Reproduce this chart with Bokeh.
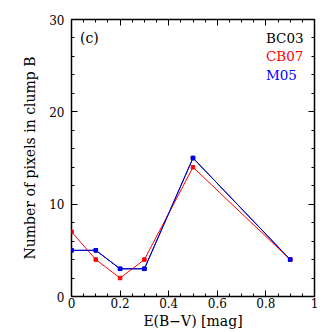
from bokeh.plotting import figure
from bokeh.models import FixedTicker, LinearAxis, Range1d
from bokeh.core.properties import value
from bokeh.embed import file_html
from bokeh.resources import INLINE

# data
ebv = [0.0, 0.1, 0.2, 0.3, 0.5, 0.9]
bc03 = [5, 5, 3, 3, 15, 4]
cb07 = [7, 4, 2, 4, 14, 4]
m05 = [5, 5, 3, 3, 15, 4]
series_names = ["BC03", "CB07", "M05"]
series_colors = ["black", "red", "blue"]
x_ticks = [0, 0.2, 0.4, 0.6, 0.8, 1]
x_tick_labels = ["0", "0.2", "0.4", "0.6", "0.8", "1"]
y_ticks = [0, 10, 20, 30]
panel_label = "(c)"

FONT = "DejaVu Serif"

p = figure(width=324, height=332, output_backend="svg", toolbar_location=None,
           x_range=Range1d(0, 1), y_range=Range1d(0, 30),
           min_border_left=71, min_border_right=10, min_border_top=19, min_border_bottom=36,
           x_axis_label="E(B\u2212V) [mag]", y_axis_label="Number of pixels in clump B")
p.grid.visible = False
p.outline_line_color = "black"
p.outline_line_width = 1.5
p.background_fill_color = "white"
p.border_fill_color = "white"

x_minor = [i * 0.05 for i in range(21)]
y_minor = [i * 2 for i in range(16)]
xt = FixedTicker(ticks=x_ticks, minor_ticks=x_minor)
yt = FixedTicker(ticks=y_ticks, minor_ticks=y_minor)

def style(ax, labels=True):
    ax.major_tick_in = 6
    ax.major_tick_out = 0
    ax.minor_tick_in = 3
    ax.minor_tick_out = 0
    ax.axis_line_color = None
    ax.major_tick_line_color = "black"
    ax.minor_tick_line_color = "black"
    ax.major_tick_line_width = 1
    ax.minor_tick_line_width = 1
    ax.major_label_text_font = FONT
    ax.major_label_text_font_size = "12px"
    ax.major_label_text_color = "black"
    ax.axis_label_text_font = FONT
    ax.axis_label_text_font_size = "14px"
    ax.axis_label_text_font_style = "normal"
    ax.axis_label_text_color = "black"
    if not labels:
        ax.major_label_text_font_size = "0px"
        ax.major_label_text_alpha = 0

xa = p.xaxis[0]
xa.ticker = xt
xa.major_label_overrides = {t: l for t, l in zip(x_ticks, x_tick_labels)}
style(xa)
xa.major_label_standoff = 1
xa.axis_label_standoff = 2

ya = p.yaxis[0]
ya.ticker = yt
style(ya)
ya.major_label_standoff = 7
ya.axis_label_standoff = 8

top = LinearAxis(ticker=FixedTicker(ticks=x_ticks, minor_ticks=x_minor))
style(top, labels=False)
top.major_label_standoff = 0
p.add_layout(top, "above")
right = LinearAxis(ticker=FixedTicker(ticks=y_ticks, minor_ticks=y_minor))
style(right, labels=False)
right.major_label_standoff = 0
p.add_layout(right, "right")

for ys, c in zip([bc03, cb07, m05], series_colors):
    p.line(ebv, ys, line_color=c, line_width=1)
    p.scatter(ebv, ys, marker="square", size=3.5, fill_color=c, line_color=c)

p.text(x=[0.035], y=[28.0], text=[panel_label], text_font=value(FONT),
       text_font_size="14px", text_baseline="middle", text_align="left", text_color="black")
p.text(x=[0.80] * 3, y=[28.0, 26.0, 24.0], text=series_names, text_font=value(FONT),
       text_font_size="13.5px", text_baseline="middle", text_align="left",
       text_color=series_colors)

open("out.html", "w").write(file_html(p, INLINE))
